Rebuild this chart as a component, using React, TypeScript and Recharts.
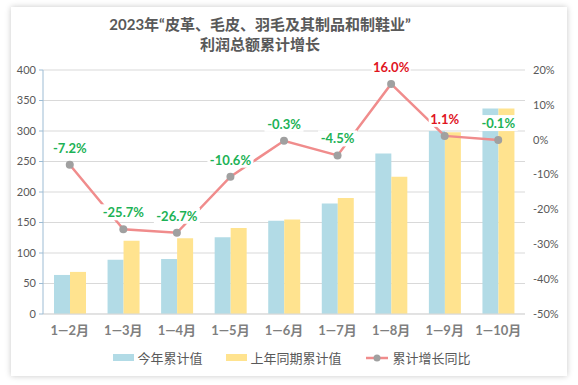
import {
  ComposedChart,
  Bar,
  Line,
  XAxis,
  YAxis,
  CartesianGrid,
  LabelList,
} from 'recharts';

const categories = ['1—2月', '1—3月', '1—4月', '1—5月', '1—6月', '1—7月', '1—8月', '1—9月', '1—10月'];
const thisYear = [64, 89, 90, 126, 153, 181, 263, 300, 337];
const lastYear = [69, 120, 124, 141, 155, 190, 225, 298, 337];
const growth = [-7.2, -25.7, -26.7, -10.6, -0.3, -4.5, 16.0, 1.1, -0.1];
const leftTicks = [0, 50, 100, 150, 200, 250, 300, 350, 400];
const rightTicks = [-50, -40, -30, -20, -10, 0, 10, 20];
const boundaryTicks = [0, 1, 2, 3, 4, 5, 6, 7, 8, 9];

const seriesNames = ['今年累计值', '上年同期累计值', '累计增长同比'];

const BLUE = '#b2dbe6';
const YELLOW = '#ffe38f';
const LINE = '#f08c8c';
const DOT = '#a0a0a0';
const GREEN = '#1db256';
const RED = '#e0141e';
const FONT = "Lato, 'Noto Sans CJK SC', sans-serif";

const data = categories.map((name, i) => ({
  name,
  thisYear: thisYear[i],
  lastYear: lastYear[i],
  growth: growth[i],
}));

function GrowthLabel(props: any) {
  const { x, y, value } = props;
  if (x == null || y == null) return null;
  const text = `${Number(value).toFixed(1)}%`;
  const w = text.length * 7 + 4;
  const cy = y - 17;
  return (
    <g>
      <rect x={x - w / 2} y={cy - 8} width={w} height={16} fill="#fff" />
      <text
        x={x}
        y={cy}
        textAnchor="middle"
        dominantBaseline="central"
        fontSize={13}
        fontWeight="bold"
        fontFamily={FONT}
        fill={value > 0 ? RED : GREEN}
      >
        {text}
      </text>
    </g>
  );
}

function LegendBox() {
  const itemStyle = { display: 'flex', alignItems: 'center', marginRight: 24 };
  const textStyle = { fontSize: 13, color: '#595959', marginLeft: 3 };
  return (
    <div
      style={{
        position: 'absolute',
        left: 0,
        top: 348,
        width: 584,
        display: 'flex',
        justifyContent: 'center',
        fontFamily: FONT,
      }}
    >
      <div style={itemStyle}>
        <div style={{ width: 21, height: 7, background: BLUE }} />
        <span style={textStyle}>{seriesNames[0]}</span>
      </div>
      <div style={itemStyle}>
        <div style={{ width: 21, height: 7, background: YELLOW }} />
        <span style={textStyle}>{seriesNames[1]}</span>
      </div>
      <div style={{ ...itemStyle, marginRight: 0 }}>
        <svg width={22} height={10}>
          <line x1={0} y1={5} x2={22} y2={5} stroke={LINE} strokeWidth={2.5} />
          <circle cx={11} cy={5} r={3.5} fill={DOT} />
        </svg>
        <span style={{ ...textStyle, marginLeft: 5 }}>{seriesNames[2]}</span>
      </div>
    </div>
  );
}

export default function App() {
  return (
    <div style={{ position: 'absolute', left: 0, top: 0, width: 578, height: 385, background: '#fff', overflow: 'hidden' }}>
      <div
        style={{
          position: 'absolute',
          left: 11,
          top: 7,
          width: 556,
          height: 369,
          background: '#fff',
          boxShadow: '0 0 6px rgba(0,0,0,0.22)',
        }}
      />
      <div
        style={{
          position: 'absolute',
          left: 0,
          top: 14,
          width: 520,
          textAlign: 'center',
          fontFamily: FONT,
          fontSize: 15,
          fontWeight: 'bold',
          color: '#595959',
          lineHeight: '20px',
        }}
      >
        <div>2023年“皮革、毛皮、羽毛及其制品和制鞋业”</div>
        <div>利润总额累计增长</div>
      </div>
      <div style={{ position: 'absolute', left: 0, top: 0 }}>
        <ComposedChart
          width={578}
          height={385}
          data={data}
          margin={{ top: 70, right: 0, left: 0, bottom: 41 }}
          barGap={0}
        >
          <CartesianGrid yAxisId="left" vertical={false} stroke="#d9d9d9" />
          <XAxis
            xAxisId="bounds"
            type="number"
            domain={[0, categories.length]}
            ticks={boundaryTicks}
            height={0}
            mirror
            axisLine={false}
            tickLine={{ stroke: '#d0d0d0' }}
            tickSize={5}
            tickFormatter={() => ''}
            allowDataOverflow
          />
          <XAxis
            dataKey="name"
            axisLine={{ stroke: '#d9d9d9' }}
            tickLine={false}
            height={30}
            tickSize={6}
            tickMargin={6}
            interval={0}
            tick={{ fontSize: 13, fill: '#7f7f7f', fontWeight: 'bold', fontFamily: FONT }}
          />
          <YAxis
            yAxisId="left"
            domain={[0, 400]}
            ticks={leftTicks}
            width={43}
            axisLine={{ stroke: '#9dbcd4' }}
            tickLine={{ stroke: '#9dbcd4' }}
            tickSize={4}
            tickMargin={3}
            tick={{ fontSize: 11, fill: '#595959', fontFamily: FONT }}
          />
          <YAxis
            yAxisId="right"
            orientation="right"
            domain={[-50, 20]}
            ticks={rightTicks}
            width={53}
            axisLine={false}
            tickLine={false}
            tickSize={4}
            tickMargin={4}
            tickFormatter={(v) => `${v}%`}
            tick={{ fontSize: 11, fill: '#595959', fontFamily: FONT, textAnchor: 'start' }}
          />
          <Bar yAxisId="left" dataKey="thisYear" name={seriesNames[0]} fill={BLUE} barSize={16} isAnimationActive={false} />
          <Bar yAxisId="left" dataKey="lastYear" name={seriesNames[1]} fill={YELLOW} barSize={16} isAnimationActive={false} />
          <Line
            yAxisId="right"
            dataKey="growth"
            name={seriesNames[2]}
            stroke={LINE}
            strokeWidth={2.5}
            dot={{ r: 4, fill: DOT, stroke: 'none' }}
            activeDot={false}
            isAnimationActive={false}
          >
            <LabelList dataKey="growth" content={<GrowthLabel />} />
          </Line>
        </ComposedChart>
      </div>
      <LegendBox />
    </div>
  );
}
